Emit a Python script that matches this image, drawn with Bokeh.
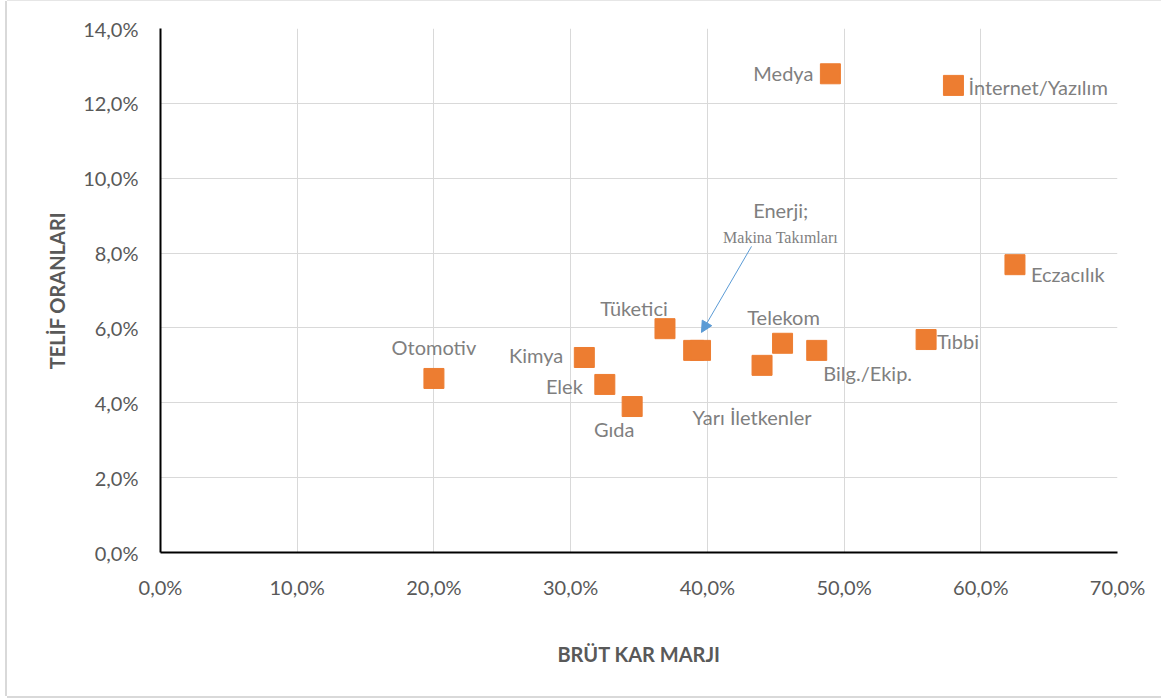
from bokeh.plotting import figure
from bokeh.models import (ColumnDataSource, LabelSet, Range1d, FixedTicker,
                          CustomJSTickFormatter, Arrow, NormalHead)
from bokeh.core.properties import value
from bokeh.embed import file_html
from bokeh.resources import INLINE

# ---- data -------------------------------------------------------------
sectors = ["Otomotiv", "Kimya", "Elek", "Gıda", "Tüketici", "Enerji;",
           "Makina Takımları", "Yarı İletkenler", "Telekom", "Bilg./Ekip.",
           "Tıbbi", "Eczacılık", "Medya", "İnternet/Yazılım"]
gross_margin = [0.200, 0.310, 0.325, 0.345, 0.369, 0.390,
                0.395, 0.440, 0.455, 0.480, 0.560, 0.625, 0.490, 0.580]
royalty_rate = [0.0465, 0.0521, 0.0449, 0.0390, 0.0598, 0.0540,
                0.0540, 0.0500, 0.0559, 0.0540, 0.0569, 0.0769, 0.1279, 0.1248]
x_ticks = [0.0, 0.1, 0.2, 0.3, 0.4, 0.5, 0.6, 0.7]
y_ticks = [0.0, 0.02, 0.04, 0.06, 0.08, 0.10, 0.12, 0.14]

# label placement (screen px offsets from each point)
label_dx = [0, -21, -22, -18, -31, 87, 80, -10, 1, 51, 11, 16, -17, 15]
label_dy = [31, 2, -2, -22, 21, 140, 113, -52, 26, -23, -1, -9, 1, -2]
label_align = ["center", "right", "right", "center", "center", "center",
               "center", "center", "center", "center", "left", "left",
               "right", "left"]
arrow_start = (0.4323, 0.0818)
arrow_end = (0.3957, 0.0588)

ORANGE = "#ED7D31"
GRID = "#D9D9D9"
TXT = "#595959"
LBL = "#7F7F7F"
FONT = "Lato"

p = figure(frame_width=957, frame_height=524,
           min_border_left=153, min_border_top=27, min_border_right=44,
           min_border_bottom=144,
           x_range=Range1d(0, 0.7), y_range=Range1d(0, 0.14),
           output_backend="svg", toolbar_location=None,
           background_fill_color="white", border_fill_color="white")
p.outline_line_color = None
p.styles = {"margin-left": "7px", "margin-top": "1px",
            "box-shadow": "-2px 0 0 0 #D9D9D9, 0 2px 0 0 #D9D9D9, 0 -1px 0 0 #E6E6E6"}

fmt = CustomJSTickFormatter(code="return (tick*100).toFixed(1).replace('.', ',') + '%';")
p.xaxis.ticker = FixedTicker(ticks=x_ticks)
p.yaxis.ticker = FixedTicker(ticks=y_ticks)
p.xaxis.formatter = fmt
p.yaxis.formatter = fmt

for ax in (p.xaxis[0], p.yaxis[0]):
    ax.axis_line_color = "black"
    ax.axis_line_width = 2
    ax.major_tick_line_color = None
    ax.minor_tick_line_color = None
    ax.major_tick_out = 0
    ax.major_tick_in = 0
    ax.major_label_text_font = FONT
    ax.major_label_text_font_size = "20px"
    ax.major_label_text_color = TXT
    ax.axis_label_text_font = FONT
    ax.axis_label_text_font_style = "bold"
    ax.axis_label_text_font_size = "20px"
    ax.axis_label_text_color = TXT

p.xaxis.axis_label = "BRÜT KAR MARJI"
p.yaxis.axis_label = "TELİF ORANLARI"
p.xaxis.major_label_standoff = 22
p.yaxis.major_label_standoff = 22
p.xaxis.axis_label_standoff = 40
p.yaxis.axis_label_standoff = 11

p.xgrid.grid_line_color = GRID
p.ygrid.grid_line_color = GRID
p.xgrid.grid_line_width = 1
p.ygrid.grid_line_width = 1

src = ColumnDataSource(dict(x=gross_margin, y=royalty_rate))
p.scatter("x", "y", source=src, marker="square", size=20,
          fill_color=ORANGE, line_color=ORANGE)

idx_norm = [i for i, s in enumerate(sectors) if s != "Makina Takımları"]
idx_serif = [i for i, s in enumerate(sectors) if s == "Makina Takımları"]

def sub(ids):
    return ColumnDataSource(dict(
        x=[gross_margin[i] for i in ids], y=[royalty_rate[i] for i in ids],
        name=[sectors[i] for i in ids], dx=[label_dx[i] for i in ids],
        dy=[label_dy[i] for i in ids], align=[label_align[i] for i in ids]))

p.add_layout(LabelSet(x="x", y="y", text="name", source=sub(idx_norm),
                      x_offset="dx", y_offset="dy", text_align="align",
                      text_baseline="middle", text_font=value(FONT),
                      text_font_size=value("20px"), text_color=LBL))
p.add_layout(LabelSet(x="x", y="y", text="name", source=sub(idx_serif),
                      x_offset="dx", y_offset="dy", text_align="align",
                      text_baseline="middle",
                      text_font=value("Liberation Serif"),
                      text_font_size=value("16px"), text_color=LBL))

p.add_layout(Arrow(end=NormalHead(size=11, fill_color="#5B9BD5",
                                  line_color="#5B9BD5"),
                   x_start=arrow_start[0], y_start=arrow_start[1],
                   x_end=arrow_end[0], y_end=arrow_end[1],
                   line_color="#5B9BD5", line_width=1))

open("out.html", "w").write(file_html(p, INLINE))
